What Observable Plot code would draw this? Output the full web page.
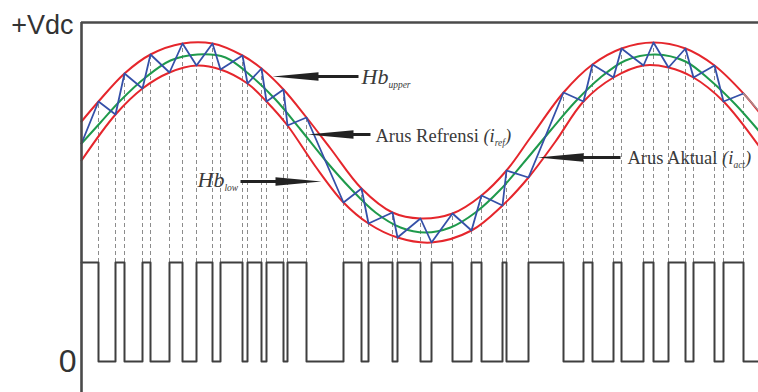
<!DOCTYPE html>
<html><head><meta charset="utf-8">
<script src="https://cdn.jsdelivr.net/npm/d3@7"></script>
<script src="https://cdn.jsdelivr.net/npm/@observablehq/plot@0.6"></script>
<style>html,body{margin:0;padding:0;background:#fff}#chart svg{display:block}</style>
</head><body><div id="chart"></div>
<script>
// Time axis t (arbitrary units), signal axis in arbitrary units (PWM low = 0)
const tMax = 677;
const yMin = -31, vdcLevel = 339;
const pwmLow = 0, pwmHigh = 99;

// Switching instants (hysteresis crossings) and actual current at each crossing
const switchT = [17,34,43,61,69,88,101,115,131,139,161,166,180,185,202,206,225,262,280,287,311,316,339,350,371,390,400,421,425,447,482,502,511,532,540,562,572,587,604,612,633,642,662];
const iActAtSwitch = [260,247,288,273,307,289,318,296,318,292,306,278,293,260,272,236,244,159,173,138,149,124,143,119,148,131,166,156,191,184,269,260,297,284,313,296,319,294,313,284,296,260,268];
const iActStart = 218, iActEnd = 251;

// Reference current (green)
const refT = [0,19,39,64,89,116,144,169,194,219,244,269,294,319,344,369,394,419,444,469,494,519,544,574,604,629,654,677];
const refI = [218,239,261,284,301,307,304,286,262,232,201,173,149,134,129,134,149,172,201,231,260,284,301,307,300,281,257,231];
// Upper hysteresis band
const upperT = [0,17,43,69,101,131,161,180,202,225,249,280,311,339,371,400,425,449,482,511,540,572,604,633,662,677];
const upperI = [240,260,288,307,318,318,306,293,272,244,213,173,149,143,148,166,191,224,269,297,313,319,313,296,268,250];
// Lower hysteresis band
const lowerT = [0,34,61,88,115,139,166,185,206,234,262,287,316,350,390,421,447,474,502,532,562,587,612,642,677];
const lowerI = [201,247,273,289,296,292,278,260,236,195,159,138,124,119,131,156,184,220,260,284,296,294,284,260,216];

// Annotation arrows (tail -> tip) and labels
const arrowTail = [277, 289, 159, 539];
const arrowTip  = [191, 226, 240, 456];
const arrowY    = [285, 227, 180, 204];
const labelX    = [280, 294, 116, 546];
const labelY    = [278, 220, 175, 198];
const labelParts = [
  [["Hb","i"],["upper","is"]],
  [["Arus Refrensi ",""],["(i","i"],["ref","is"],[")","i"]],
  [["Hb","i"],["low","is"]],
  [["Arus Aktual ",""],["(i","i"],["act","is"],[")","i"]]
];
const labelSize = [22, 18.5, 22, 18.5];

// ---- build tables ----
const switches = switchT.map((t, k) => ({t, i: iActAtSwitch[k]}));
const actual = [{t: 0, i: iActStart}, ...switches];
const actualTail = [switches[switches.length - 1], {t: tMax, i: iActEnd}];
const pwm = [{t: 0, v: pwmHigh}];
let on = true;
for (const t of switchT) { on = !on; pwm.push({t, v: on ? pwmHigh : pwmLow}); }
pwm.push({t: tMax, v: on ? pwmHigh : pwmLow});
const ref = refT.map((t, k) => ({t, i: refI[k]}));
const upper = upperT.map((t, k) => ({t, i: upperI[k]}));
const lower = lowerT.map((t, k) => ({t, i: lowerI[k]}));
const arrows = arrowTail.map((a, k) => ({tail: a, tip: arrowTip[k], y: arrowY[k], len: Math.abs(a - arrowTip[k]), rot: arrowTip[k] < a ? -90 : 90}));
const labels = labelX.map((x, k) => ({x, y: labelY[k], parts: labelParts[k], size: labelSize[k]}));

const arrowShape = {
  draw(ctx, l) {
    const h = Math.min(46, l);
    ctx.moveTo(-1.6, 0);
    ctx.lineTo(-1.6, -(l - h));
    ctx.lineTo(-4.2, -(l - h));
    ctx.lineTo(0, -l);
    ctx.lineTo(4.2, -(l - h));
    ctx.lineTo(1.6, -(l - h));
    ctx.lineTo(1.6, 0);
    ctx.closePath();
  }
};

const serif = "'Liberation Serif','Times New Roman',Times,serif";
const sans = "'Liberation Sans',Arial,Helvetica,sans-serif";

const chart = Plot.plot({
  width: 758, height: 392,
  marginLeft: 81, marginRight: 0, marginTop: 22, marginBottom: 0,
  x: {domain: [0, tMax], axis: null},
  y: {domain: [yMin, vdcLevel], axis: null},
  length: {domain: [0, tMax], range: [0, tMax]},
  style: {background: "#fff", overflow: "visible"},
  marks: [
    Plot.ruleX(switches, {x: "t", y1: pwmHigh, y2: "i", stroke: "#8c8c8c", strokeWidth: 1, strokeDasharray: "4,3"}),
    Plot.line(pwm, {x: "t", y: "v", curve: "step-after", stroke: "#3f3f3f", strokeWidth: 2}),
    Plot.line(upper, {x: "t", y: "i", curve: "catmull-rom", stroke: "#e5262c", strokeWidth: 2}),
    Plot.line(lower, {x: "t", y: "i", curve: "catmull-rom", stroke: "#e5262c", strokeWidth: 2}),
    Plot.line(ref, {x: "t", y: "i", curve: "catmull-rom", stroke: "#1f9a4c", strokeWidth: 2}),
    Plot.line(actual, {x: "t", y: "i", stroke: "#3550a8", strokeWidth: 1.8}),
    Plot.line(actualTail, {x: "t", y: "i", stroke: "#9a9a9a", strokeWidth: 1.2}),
    Plot.ruleY([vdcLevel], {stroke: "#4a4a4a", strokeWidth: 2.6}),
    Plot.ruleX([0], {stroke: "#4a4a4a", strokeWidth: 2.6}),
    Plot.vector(arrows, {x: "tip", y: "y", length: "len", rotate: "rot", anchor: "end", shape: arrowShape, fill: "#222", stroke: "none"}),
    Plot.text(["+Vdc"], {x: -8, y: 328, text: d => d, textAnchor: "end", lineAnchor: "bottom", fontFamily: sans, fontSize: 27, fill: "#333"}),
    Plot.text(["0"], {x: -5, y: -10, text: d => d, textAnchor: "end", lineAnchor: "bottom", fontFamily: sans, fontSize: 32, fill: "#333"}),
    Plot.text(labels, {
      x: "x", y: "y", text: d => d.parts[0][0], textAnchor: "start", lineAnchor: "bottom",
      fontFamily: serif, fill: "#3a3a3a",
      render(index, scales, values, dims, ctx, next) {
        const g = next(index, scales, values, dims, ctx);
        d3.select(g).selectAll("text").each(function(i) {
          const d = labels[i];
          const t = d3.select(this);
          t.text(null).attr("font-size", d.size);
          let down = false;
          for (const [s, st] of d.parts) {
            const ts = t.append("tspan").text(s);
            if (st.includes("i")) ts.attr("font-style", "italic");
            if (st.includes("s")) {
              ts.attr("font-size", 9.5);
              if (!down) { ts.attr("dy", 4); down = true; }
            } else if (down) { ts.attr("dy", -4); down = false; }
          }
        });
        return g;
      }
    })
  ]
});
document.getElementById("chart").appendChild(chart);
</script>
</body></html>
